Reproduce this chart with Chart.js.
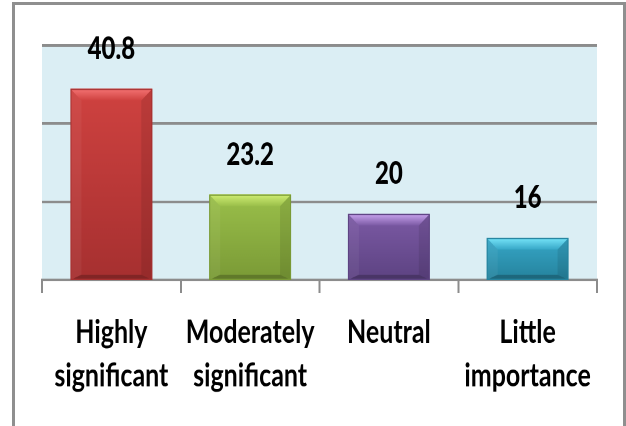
<!DOCTYPE html>
<html>
<head>
<meta charset="utf-8">
<script src="https://cdn.jsdelivr.net/npm/chart.js@4"></script>
<style>
  html, body { margin: 0; padding: 0; background: #fff; width: 626px; height: 426px; overflow: hidden; }
  #frame { position: absolute; left: 12px; top: 2px; width: 614px; height: 440px; border: 3px solid #8f8f8f; box-sizing: border-box; }
  /* chart is laid out in a shorter box and stretched vertically */
  #stage { position: absolute; left: 0; top: 0; width: 626px; height: 328px; transform: scaleY(1.2988); transform-origin: 0 0; }
</style>
</head>
<body>
<div id="frame"></div>
<div id="stage"><canvas id="c" width="626" height="328"></canvas></div>
<script>
// Survey responses (percent)
const categories = [["Highly", "significant"], ["Moderately", "significant"], "Neutral", ["Little", "importance"]];
const values = [40.8, 23.2, 20, 16];

// Bar palette: face, bevel highlight, shade
const barColors  = ['#cf4240', '#9abf4a', '#7c5aa5', '#37a8c8'];
const bevelLight = ['#f47474', '#d0ee74', '#cba6f0', '#78e6fa'];
const barShade   = ['#a63030', '#7a9a36', '#5d4382', '#25829d'];

// Value axis range (axis itself is unlabeled)
const yMin = 9, yMax = 48, yStep = 13;

const plotBg = {
  id: 'plotBg',
  beforeDraw(chart) {
    const { ctx, chartArea: a } = chart;
    ctx.save();
    ctx.fillStyle = '#dbeef4';
    ctx.fillRect(a.left, a.top, a.right - a.left, a.bottom - a.top);
    ctx.restore();
  }
};

const bevel = {
  id: 'bevel',
  afterDatasetsDraw(chart) {
    const ctx = chart.ctx;
    const area = chart.chartArea;
    const meta = chart.getDatasetMeta(0);
    meta.data.forEach((el, i) => {
      const p = el.getProps(['x', 'y', 'base', 'width'], true);
      const x = p.x, y = p.y, width = p.width;
      const base = Math.min(p.base, area.bottom);
      const x0 = x - width / 2, x1 = x + width / 2;
      const b = 11, bt = 9, bb = 4;
      ctx.save();
      // face gradient
      const g = ctx.createLinearGradient(0, y, 0, base);
      g.addColorStop(0, barColors[i]);
      g.addColorStop(1, barShade[i]);
      ctx.fillStyle = g;
      ctx.fillRect(x0, y, width, base - y);
      // top bevel
      const gt = ctx.createLinearGradient(0, y, 0, y + bt);
      gt.addColorStop(0, bevelLight[i]);
      gt.addColorStop(1, barColors[i]);
      ctx.fillStyle = gt;
      ctx.beginPath();
      ctx.moveTo(x0, y); ctx.lineTo(x1, y); ctx.lineTo(x1 - b, y + bt); ctx.lineTo(x0 + b, y + bt);
      ctx.closePath(); ctx.fill();
      // left bevel
      ctx.fillStyle = 'rgba(255,255,255,0.05)';
      ctx.beginPath();
      ctx.moveTo(x0, y); ctx.lineTo(x0 + b, y + bt); ctx.lineTo(x0 + b, base - bb); ctx.lineTo(x0, base);
      ctx.closePath(); ctx.fill();
      // right bevel
      ctx.fillStyle = 'rgba(0,0,0,0.09)';
      ctx.beginPath();
      ctx.moveTo(x1, y); ctx.lineTo(x1 - b, y + bt); ctx.lineTo(x1 - b, base - bb); ctx.lineTo(x1, base);
      ctx.closePath(); ctx.fill();
      // bottom bevel
      ctx.fillStyle = 'rgba(0,0,0,0.22)';
      ctx.beginPath();
      ctx.moveTo(x0, base); ctx.lineTo(x0 + b, base - bb); ctx.lineTo(x1 - b, base - bb); ctx.lineTo(x1, base);
      ctx.closePath(); ctx.fill();
      // outline
      ctx.strokeStyle = barShade[i];
      ctx.lineWidth = 1;
      ctx.strokeRect(x0 + 0.5, y + 0.5, width - 1, base - y - 1);
      ctx.restore();
    });
  }
};

const valueLabels = {
  id: 'valueLabels',
  afterDatasetsDraw(chart) {
    const ctx = chart.ctx;
    const meta = chart.getDatasetMeta(0);
    ctx.save();
    ctx.font = '900 24px Lato, "DejaVu Sans", sans-serif';
    ctx.fillStyle = '#000';
    ctx.textAlign = 'center';
    ctx.textBaseline = 'alphabetic';
    meta.data.forEach((el, i) => {
      ctx.fillText(String(values[i]), el.x, el.y - 23);
    });
    ctx.restore();
  }
};

new Chart(document.getElementById('c'), {
  type: 'bar',
  data: {
    labels: categories,
    datasets: [{
      data: values,
      backgroundColor: 'rgba(0,0,0,0)',
      borderWidth: 0,
      barPercentage: 0.59,
      categoryPercentage: 1
    }]
  },
  options: {
    responsive: false,
    animation: false,
    devicePixelRatio: 2,
    layout: { padding: { left: 42, right: 29, top: 35, bottom: 8 } },
    plugins: { legend: { display: false }, tooltip: { enabled: false } },
    scales: {
      x: {
        grid: { display: true, drawOnChartArea: false, drawTicks: true, tickLength: 10, color: '#8c8c8c', lineWidth: 2 },
        border: { display: true, color: '#8c8c8c', width: 2 },
        ticks: {
          color: '#000',
          padding: 14,
          maxRotation: 0,
          autoSkip: false,
          font: { family: 'Lato, "DejaVu Sans", sans-serif', size: 25, weight: 'bold', lineHeight: 1.33 }
        }
      },
      y: {
        min: yMin,
        max: yMax,
        afterBuildTicks(scale) {
          const t = [];
          for (let v = yMin; v <= yMax + 1e-9; v += yStep) t.push({ value: v });
          scale.ticks = t;
        },
        grid: { color: '#8c8c8c', lineWidth: 2, drawTicks: false },
        border: { display: false },
        ticks: { display: false }
      }
    }
  },
  plugins: [plotBg, bevel, valueLabels]
});
</script>
</body>
</html>
